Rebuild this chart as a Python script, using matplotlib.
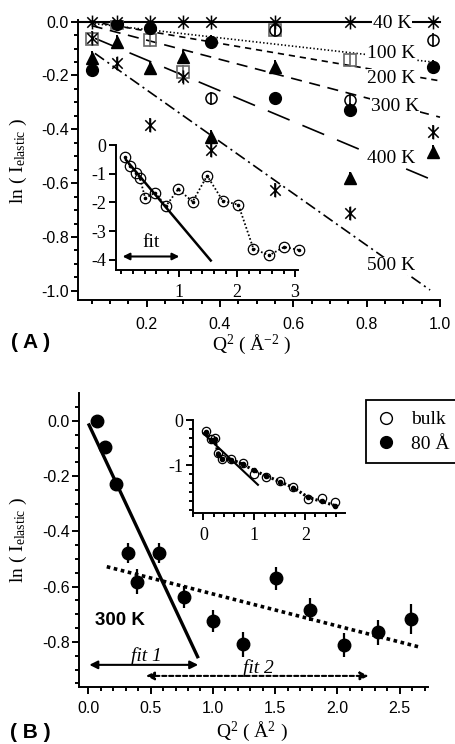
import numpy as np
import matplotlib
matplotlib.use("Agg")
import matplotlib.pyplot as plt
from matplotlib.ticker import MultipleLocator, FixedLocator, FormatStrFormatter
from matplotlib.lines import Line2D
from matplotlib.path import Path

nan = np.nan
plt.rcParams.update({
    'lines.scale_dashes': False,
    'axes.unicode_minus': False,
    'mathtext.fontset': 'custom',
    'mathtext.rm': 'Liberation Serif',
    'mathtext.it': 'Liberation Serif:italic',
    'mathtext.bf': 'Liberation Serif:bold',
    'font.family': ['Liberation Sans', 'DejaVu Sans'],
})
SANS = 'Liberation Sans'
SERIF = 'Liberation Serif'

# ---------------- Panel A data ----------------
qA = [0.05, 0.12, 0.21, 0.30, 0.375, 0.55, 0.755, 0.98]
a_40K = [0, 0, 0, 0, 0, 0, 0, 0]
a_square = [-0.065, -0.005, -0.068, -0.186, nan, -0.031, -0.142, nan]
a_fcircle = [-0.18, -0.009, -0.025, nan, -0.074, -0.285, -0.328, -0.167]
a_ocircle = [nan, nan, nan, nan, -0.285, -0.031, -0.291, -0.068]
a_triangle = [-0.135, -0.074, -0.173, -0.13, -0.427, -0.167, -0.582, -0.483]
a_500K = [-0.06, -0.155, -0.384, -0.204, -0.477, -0.626, -0.712, -0.41]
a_err = 0.025

fitA_labels = ['40 K', '100 K', '200 K', '300 K', '400 K', '500 K']
fitA_x0 = [0.012, 0.048, 0.05, 0.05, 0.059, 0.059]
fitA_y0 = [0.0, -0.006, 0.0, -0.015, -0.062, -0.118]
fitA_x1 = [1.0, 0.973, 1.0, 1.0, 1.0, 0.973]
fitA_y1 = [0.0, -0.149, -0.22, -0.355, -0.60, -0.997]
fitA_styles = ['-', (0, (1.0, 1.6)), (0, (4.5, 3.5)), (0, (8, 5.5)), (0, (17, 10)),
               (0, (8, 3, 1.5, 3))]
fitA_lw = [1.5, 1.2, 1.2, 1.2, 1.2, 1.2]
labA_x = [0.870, 0.868, 0.868, 0.877, 0.868, 0.866]
labA_y = [-0.006, -0.118, -0.211, -0.317, -0.509, -0.907]

# inset A
qA_in = [0.06, 0.147, 0.25, 0.32, 0.41, 0.58, 0.77, 0.98, 1.23, 1.48, 1.75, 2.02,
         2.28, 2.55, 2.81, 3.06]
yA_in = [-0.41, -0.73, -0.96, -1.16, -1.85, -1.66, -2.12, -1.54, -1.97, -1.07, -1.94,
         -2.08, -3.61, -3.84, -3.55, -3.65]
fitA_in_x = [0.079, 1.543]
fitA_in_y = [-0.52, -4.02]
arrowA_in_x = [0.02, 1.0]
arrowA_in_y = -3.88

# ---------------- Panel B data ----------------
qB = [0.067, 0.137, 0.222, 0.319, 0.388, 0.57, 0.77, 1.003, 1.244, 1.506, 1.779,
      2.052, 2.327, 2.595]
yB = [0.0, -0.096, -0.23, -0.477, -0.582, -0.477, -0.639, -0.725, -0.808, -0.57,
      -0.684, -0.811, -0.766, -0.716]
eB = [0.015, 0.015, 0.02, 0.036, 0.045, 0.036, 0.04, 0.04, 0.045, 0.042, 0.042,
      0.044, 0.047, 0.054]
fit1_x = [0.0, 0.883]
fit1_y = [-0.01, -0.859]
fit2_x = [0.148, 2.662]
fit2_y = [-0.528, -0.819]
arrow1_x = [0.008, 0.882]
arrow1_y = -0.883
arrow2_x = [0.463, 2.25]
arrow2_y = -0.923

# inset B
qB_in = [0.045, 0.14, 0.22, 0.29, 0.37, 0.55, 0.77, 0.99, 1.23, 1.50, 1.76, 2.06,
         2.32, 2.58]
yB_bulk = [-0.244, -0.43, -0.41, -0.74, -0.87, -0.87, -0.95, -1.19, -1.26, -1.36,
           -1.48, -1.76, -1.74, -1.82]
yB_80 = [-0.26, -0.44, -0.42, -0.75, -0.86, -0.88, -0.98, -1.12, -1.24, -1.37,
         -1.50, -1.72, -1.81, -1.90]
fitB_in_x = [0.0, 1.07]
fitB_in_y = [-0.30, -1.44]

# ---------------- figure ----------------
W, H = 455, 744
fig = plt.figure(figsize=(W / 100, H / 100), dpi=100)


def add_ax(l, t, r, b):
    ax = fig.add_axes([l / W, 1 - b / H, (r - l) / W, (b - t) / H])
    ax.patch.set_alpha(0)
    for s in ('top', 'right'):
        ax.spines[s].set_visible(False)
    return ax


def style(ax, fam, size, lw=1.4, maj=5, mnr=3, padx=4, pady=2):
    for s in ('left', 'bottom'):
        ax.spines[s].set_linewidth(lw)
    ax.tick_params(which='both', direction='out', width=lw, top=False, right=False)
    ax.tick_params(which='major', length=maj, labelsize=size, labelfontfamily=fam)
    ax.tick_params(axis='x', which='major', pad=padx)
    ax.tick_params(axis='y', which='major', pad=pady)
    ax.tick_params(which='minor', length=mnr)


def ftext(px, py, s, **kw):
    fig.text(px / W, 1 - py / H, s, **kw)


# asterisk marker: vertical bar plus an X
ast = Path([(0, -1), (0, 1), (-0.75, -0.75), (0.75, 0.75), (-0.75, 0.75), (0.75, -0.75)],
           [Path.MOVETO, Path.LINETO, Path.MOVETO, Path.LINETO, Path.MOVETO, Path.LINETO])

# ----- Panel A main
axA = add_ax(77.7, 20, 440, 300)
axA.set_xlim(0.012, 1.0)
axA.set_ylim(-1.034, 0.006)
axA.xaxis.set_major_locator(MultipleLocator(0.2))
axA.xaxis.set_minor_locator(MultipleLocator(0.05))
axA.yaxis.set_major_locator(MultipleLocator(0.2))
axA.yaxis.set_minor_locator(MultipleLocator(0.05))
axA.xaxis.set_major_formatter(FormatStrFormatter('%.1f'))
axA.yaxis.set_major_formatter(FormatStrFormatter('%.1f'))
style(axA, SANS, 11.5, padx=7, pady=1.5)

for i in range(6):
    axA.plot([fitA_x0[i], fitA_x1[i]], [fitA_y0[i], fitA_y1[i]], color='k',
             lw=fitA_lw[i], ls=fitA_styles[i], zorder=2, clip_on=False)
    axA.text(labA_x[i], labA_y[i], fitA_labels[i], family=SERIF, fontsize=14,
             ha='center', va='center', zorder=3,
             bbox=dict(facecolor='white', edgecolor='none', pad=0.5))

axA.plot(qA, a_40K, ls='none', marker=ast, ms=10, mew=1.1, color='k', zorder=5,
         clip_on=False)
axA.errorbar(qA, a_500K, yerr=a_err, fmt='none', ecolor='k', elinewidth=1.2, zorder=4)
axA.plot(qA, a_500K, ls='none', marker=ast, ms=10, mew=1.1, color='k', zorder=5)
axA.errorbar(qA, a_square, yerr=a_err, fmt='s', ms=8, mfc='none', mec='0.4', mew=1.2,
             ecolor='0.4', elinewidth=1.2, zorder=4)
axA.errorbar(qA, a_ocircle, yerr=a_err, fmt='o', ms=8, mfc='none', mec='k', mew=1.1,
             ecolor='k', elinewidth=1.2, zorder=4)
axA.errorbar(qA, a_triangle, yerr=a_err, fmt='^', ms=8, color='k',
             elinewidth=1.4, zorder=4)
axA.errorbar(qA, a_fcircle, yerr=a_err, fmt='o', ms=8.5, color='k',
             elinewidth=1.4, zorder=4)

ftext(251.7, 344, 'Q$^{2}$ ( Å$^{-2}$ )', family=SERIF, fontsize=14,
      ha='center', va='center')
ftext(18, 161, 'ln ( I$_{\\rm elastic}$ )', family=SERIF, fontsize=14,
      ha='center', va='center', rotation=90)
ftext(31, 343, '( A )', family=SANS, fontsize=15, weight='bold',
      ha='center', va='center')

# ----- Inset A
axAi = add_ax(116, 145, 298, 270)
axAi.set_xlim(-0.094, 3.05)
axAi.set_ylim(-4.35, 0.0)
axAi.xaxis.set_major_locator(FixedLocator([1, 2, 3]))
axAi.xaxis.set_minor_locator(MultipleLocator(0.2))
axAi.yaxis.set_major_locator(FixedLocator([0, -1, -2, -3, -4]))
axAi.xaxis.set_major_formatter(FormatStrFormatter('%d'))
axAi.yaxis.set_major_formatter(FormatStrFormatter('%d'))
style(axAi, SERIF, 13, lw=1.4, maj=5, mnr=3, padx=5, pady=2)
axAi.plot(qA_in, yA_in, ls=(0, (1.2, 1.6)), lw=1.3, color='k', marker='o', ms=7.5,
          mfc='none', mec='k', mew=0.9, zorder=3, clip_on=False)
axAi.plot(qA_in, yA_in, ls='none', marker='o', ms=1.6, color='k', zorder=4,
          clip_on=False)
axAi.plot(fitA_in_x, fitA_in_y, color='k', lw=1.8, zorder=3)
axAi.annotate('', xy=(arrowA_in_x[1], arrowA_in_y), xytext=(arrowA_in_x[0], arrowA_in_y),
              arrowprops=dict(arrowstyle='<|-|>', color='k', lw=1.5, mutation_scale=10,
                              shrinkA=0, shrinkB=0))
axAi.text(0.52, -3.41, 'fit', family=SERIF, fontsize=14, ha='center', va='center')

# ----- Panel B main
axB = add_ax(79, 393.3, 428.3, 686.7)
axB.set_xlim(-0.075, 2.73)
axB.set_ylim(-0.962, 0.099)
axB.xaxis.set_major_locator(MultipleLocator(0.5))
axB.xaxis.set_minor_locator(MultipleLocator(0.1))
axB.yaxis.set_major_locator(MultipleLocator(0.2))
axB.yaxis.set_minor_locator(MultipleLocator(0.05))
axB.xaxis.set_major_formatter(FormatStrFormatter('%.1f'))
axB.yaxis.set_major_formatter(FormatStrFormatter('%.1f'))
style(axB, SANS, 11.5, padx=5, pady=1.5)

axB.plot(fit1_x, fit1_y, color='k', lw=2.4, zorder=3, solid_capstyle='butt')
axB.plot(fit2_x, fit2_y, color='k', lw=2.6, ls=(0, (2.6, 2.6)), zorder=3,
         dash_capstyle='butt')
axB.errorbar(qB, yB, yerr=eB, fmt='o', ms=9, color='k', elinewidth=1.6, zorder=4)
axB.annotate('', xy=(arrow1_x[1], arrow1_y), xytext=(arrow1_x[0], arrow1_y),
             arrowprops=dict(arrowstyle='<|-|>', color='k', lw=1.5, mutation_scale=12,
                             shrinkA=0, shrinkB=0))
axB.annotate('', xy=(arrow2_x[1], arrow2_y), xytext=(arrow2_x[0], arrow2_y),
             arrowprops=dict(arrowstyle='<|-|>', color='k', lw=1.5, ls=(0, (3, 2)),
                             mutation_scale=12, shrinkA=0, shrinkB=0))
axB.text(0.47, -0.853, 'fit 1', family=SERIF, style='italic', fontsize=14,
         ha='center', va='center')
axB.text(1.364, -0.895, 'fit 2', family=SERIF, style='italic', fontsize=14,
         ha='center', va='center')
axB.text(0.254, -0.724, '300 K', family=SANS, weight='bold', fontsize=13.5,
         ha='center', va='center')

ftext(251.7, 731, 'Q$^{2}$ ( Å$^{2}$ )', family=SERIF, fontsize=14,
      ha='center', va='center')
ftext(18, 540, 'ln ( I$_{\\rm elastic}$ )', family=SERIF, fontsize=14,
      ha='center', va='center', rotation=90)
ftext(30.5, 732, '( B )', family=SANS, fontsize=15, weight='bold',
      ha='center', va='center')

# ----- Inset B
axBi = add_ax(193.3, 420, 345, 512.7)
axBi.set_xlim(-0.2, 2.78)
axBi.set_ylim(-2.06, 0.0)
axBi.xaxis.set_major_locator(FixedLocator([0, 1, 2]))
axBi.xaxis.set_minor_locator(MultipleLocator(0.2))
axBi.yaxis.set_major_locator(FixedLocator([0, -1]))
axBi.yaxis.set_minor_locator(MultipleLocator(0.2))
axBi.xaxis.set_major_formatter(FormatStrFormatter('%d'))
axBi.yaxis.set_major_formatter(FormatStrFormatter('%d'))
style(axBi, SERIF, 13, lw=1.4, maj=5, mnr=3, padx=5, pady=2)
axBi.plot(qB_in, yB_80, ls=(0, (1.6, 1.6)), lw=2.2, color='k', marker='o', ms=3,
          zorder=3, clip_on=False)
axBi.plot(qB_in, yB_bulk, ls='none', marker='o', ms=6, mfc='none', mec='k', mew=0.9,
          zorder=4, clip_on=False)
axBi.plot(fitB_in_x, fitB_in_y, color='k', lw=1.5, zorder=3)

handles = [Line2D([], [], ls='none', marker='o', ms=8.5, mfc='white', mec='k', mew=1.0),
           Line2D([], [], ls='none', marker='o', ms=8.5, color='k')]
leg = fig.legend(handles, ['bulk', '80 Å'], loc='upper left',
                 bbox_to_anchor=(365.7 / W, 1 - 400 / H),
                 prop={'family': SERIF, 'size': 14}, frameon=True, fancybox=False,
                 edgecolor='k', framealpha=1, borderpad=0.55, handletextpad=0.8,
                 handlelength=1.0, labelspacing=0.35, borderaxespad=0)
leg.get_frame().set_linewidth(1.3)

fig.savefig('out.png', dpi=100)
